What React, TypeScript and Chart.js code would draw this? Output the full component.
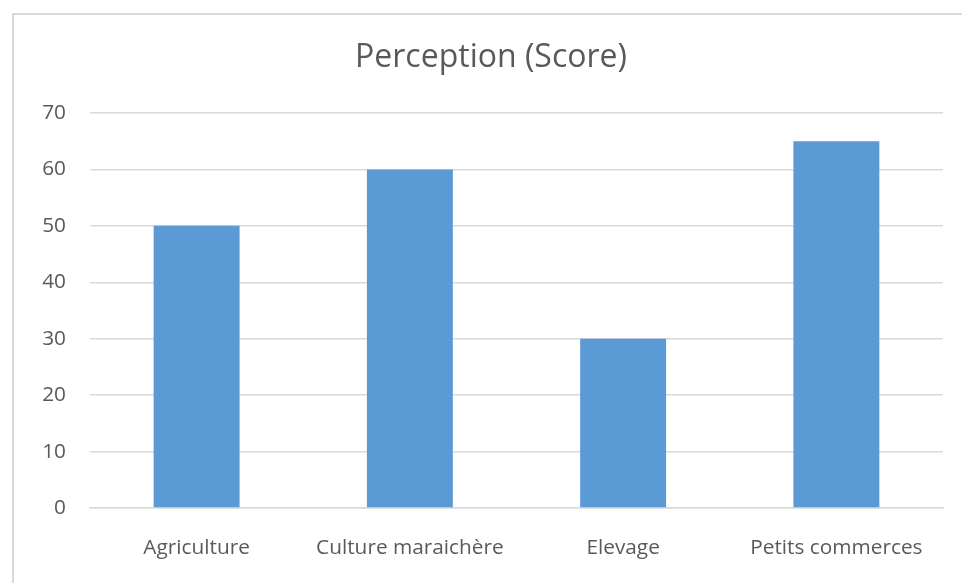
import React, { useEffect, useRef } from "react";
import { Chart, registerables } from "chart.js";

Chart.register(...registerables);

const categories = ["Agriculture", "Culture maraichère", "Elevage", "Petits commerces"];
const scores = [50, 60, 30, 65];
const titleText = "Perception (Score)";

export default function App() {
  const ref = useRef<HTMLCanvasElement | null>(null);
  useEffect(() => {
    if (!ref.current) return;
    const chart = new Chart(ref.current, {
      type: "bar",
      data: {
        labels: categories,
        datasets: [
          {
            label: "Perception (Score)",
            data: scores,
            backgroundColor: "#5B9BD5",
            borderWidth: 0,
            barPercentage: 0.403,
            categoryPercentage: 1,
          },
        ],
      },
      options: {
        responsive: false,
        animation: false,
        layout: { padding: { left: 39, right: 19, top: 0, bottom: 0 } },
        plugins: {
          legend: { display: false },
          tooltip: { enabled: false },
          title: {
            display: true,
            text: titleText,
            color: "#595959",
            font: { family: "'Open Sans'", size: 32, weight: "normal" },
            padding: { top: 39, bottom: 35.6 },
          },
        },
        scales: {
          x: {
            grid: { display: false, drawTicks: false },
            border: { display: true, color: "#d9d9d9", width: 1.5 },
            ticks: {
              color: "#595959",
              font: { family: "'Open Sans'", size: 20.8 },
              padding: 28,
              maxRotation: 0,
            },
            afterFit: (s: any) => {
              s.height = 75;
            },
          },
          y: {
            min: 0,
            max: 70,
            grid: { color: "#d9d9d9", lineWidth: 1.5, drawTicks: false },
            border: { display: false },
            ticks: {
              stepSize: 10,
              color: "#595959",
              font: { family: "'Open Sans'", size: 20.8 },
              padding: 24,
            },
            afterFit: (s: any) => {
              s.width = 51;
            },
          },
        },
      },
    });
    return () => chart.destroy();
  }, []);
  return (
    <div style={{ position: "fixed", left: 0, top: 0, width: 962, height: 583, background: "#fff", overflow: "hidden" }}>
      <div
        style={{
          position: "absolute",
          left: 12,
          top: 13,
          width: 1000,
          height: 600,
          borderLeft: "2px solid #d9d9d9",
          borderTop: "2px solid #d9d9d9",
        }}
      />
      <canvas ref={ref} width={962} height={583} style={{ position: "absolute", left: 0, top: 0 }} />
    </div>
  );
}
